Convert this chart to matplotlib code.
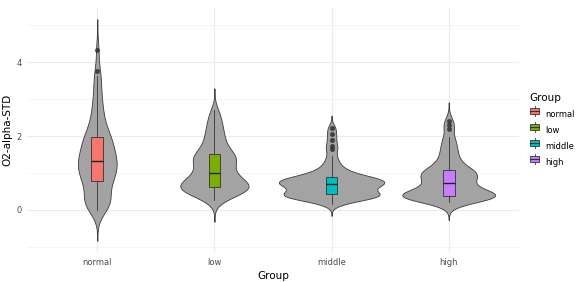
import numpy as np
import matplotlib.pyplot as plt
from matplotlib.lines import Line2D
from matplotlib.patches import Rectangle
from matplotlib.legend_handler import HandlerBase

# Groups and hand-read sample values (O2-alpha-STD)
groups = ["normal", "low", "middle", "high"]
colors = ["#F8766D", "#7CAE00", "#00BFC4", "#C77CFF"]

normal = [0.00, 0.05, 0.09, 0.13, 0.16, 0.19, 0.22, 0.26, 0.30, 0.36, 0.45, 0.54, 0.62, 0.69, 0.74,
          0.78,
          0.82, 0.86, 0.90, 0.94, 0.98, 1.02, 1.06, 1.10, 1.14, 1.18, 1.22, 1.25, 1.28, 1.31,
          1.33,
          1.37, 1.41, 1.45, 1.50, 1.54, 1.58, 1.63, 1.68, 1.73, 1.78, 1.83, 1.88, 1.92, 1.95,
          1.97,
          2.04, 2.12, 2.20, 2.29, 2.38, 2.48, 2.60, 2.73, 2.87, 3.02, 3.20, 3.40, 3.62, 3.76, 4.33]
low = [0.27, 0.33, 0.38, 0.42, 0.45, 0.48, 0.50, 0.52, 0.54, 0.55, 0.56, 0.57, 0.58, 0.60, 0.61,
       0.62,
       0.64, 0.66, 0.68, 0.70, 0.72, 0.74, 0.76, 0.79, 0.82, 0.85, 0.88, 0.91, 0.94, 0.97,
       1.00,
       1.05, 1.10, 1.15, 1.19, 1.23, 1.27, 1.30, 1.33, 1.36, 1.39, 1.42, 1.45, 1.47, 1.49,
       1.51,
       1.56, 1.62, 1.68, 1.74, 1.80, 1.87, 1.94, 2.01, 2.09, 2.17, 2.26, 2.35, 2.45, 2.57, 2.70]
middle = [0.16, 0.21, 0.25, 0.28, 0.30, 0.32, 0.34, 0.35, 0.36, 0.37, 0.38, 0.39, 0.40, 0.41, 0.42,
          0.43,
          0.45, 0.47, 0.49, 0.51, 0.53, 0.55, 0.57, 0.59, 0.61, 0.63, 0.65, 0.67, 0.68, 0.69,
          0.70,
          0.71, 0.72, 0.74, 0.75, 0.76, 0.77, 0.79, 0.80, 0.81, 0.83, 0.84, 0.85, 0.87, 0.88,
          0.89,
          0.92, 0.95, 0.98, 1.01, 1.05, 1.10, 1.16, 1.24, 1.34, 1.47, 1.64, 1.74, 1.90, 2.06, 2.23]
high = [0.22, 0.26, 0.29, 0.31, 0.32, 0.33, 0.34, 0.345, 0.35, 0.355, 0.36, 0.365, 0.37, 0.375, 0.378,
        0.38,
        0.39, 0.40, 0.41, 0.42, 0.43, 0.44, 0.46, 0.48, 0.51, 0.55, 0.59, 0.63, 0.67, 0.70,
        0.73,
        0.76, 0.79, 0.82, 0.85, 0.88, 0.90, 0.93, 0.95, 0.97, 0.99, 1.01, 1.03, 1.05, 1.07,
        1.08,
        1.13, 1.18, 1.24, 1.30, 1.37, 1.44, 1.52, 1.60, 1.69, 1.78, 1.88, 1.98, 2.20, 2.31, 2.42]
data = [normal, low, middle, high]


def nrd0(x):
    x = np.asarray(x)
    iqr = np.subtract(*np.percentile(x, [75, 25]))
    lo = min(np.std(x, ddof=1), iqr / 1.34)
    return 0.9 * lo * len(x) ** -0.2


adjust = 0.8
dens = []
for vals in data:
    v = np.asarray(vals)
    bw = nrd0(v) * adjust
    ys = np.linspace(v.min() - 3 * bw, v.max() + 3 * bw, 512)
    d = np.exp(-0.5 * ((ys[:, None] - v[None, :]) / bw) ** 2).sum(axis=1)
    d = d / (len(v) * bw * np.sqrt(2 * np.pi))
    dens.append((ys, d))
dmax = max(d.max() for _, d in dens)

fig = plt.figure(figsize=(5.83, 2.82), dpi=100)
ax = fig.add_axes([27 / 583, 30 / 282, 492 / 583, 244 / 282])

for i, ((ys, d), vals, col) in enumerate(zip(dens, data, colors)):
    x0 = i + 1
    w = d / dmax * 0.45
    ax.fill_betweenx(ys, x0 - w, x0 + w, facecolor="#A3A3A3",
                     edgecolor="#3A3A3A", linewidth=0.6, zorder=2)
    ax.boxplot([vals], positions=[x0], widths=0.1, patch_artist=True,
               manage_ticks=False, zorder=3,
               boxprops=dict(facecolor=col, edgecolor="#333333", linewidth=0.6),
               medianprops=dict(color="#222222", linewidth=1.0),
               whiskerprops=dict(color="#333333", linewidth=0.6),
               capprops=dict(linewidth=0),
               flierprops=dict(marker="o", markersize=2.6, markerfacecolor="#333333",
                               markeredgecolor="#333333", alpha=0.8))

ymin = min(ys.min() for ys, _ in dens)
ymax = max(ys.max() for ys, _ in dens)
pad = (ymax - ymin) * 0.05
ax.set_ylim(ymin - pad, ymax + pad)
ax.set_xlim(0.4, 4.6)

ax.set_xticks(range(1, 5))
ax.set_xticklabels(groups)
ax.set_yticks([0, 2, 4])
ax.set_yticks([-1, 1, 3, 5], minor=True)
ax.grid(True, which="major", color="#EBEBEB", linewidth=0.8, zorder=0)
ax.grid(True, which="minor", axis="y", color="#F2F2F2", linewidth=0.5, zorder=0)
ax.set_axisbelow(True)
for s in ax.spines.values():
    s.set_visible(False)
ax.tick_params(axis="both", which="both", length=0, labelsize=6, labelcolor="#4D4D4D")
ax.tick_params(axis="x", pad=4)
ax.set_xlabel("Group", fontsize=7.5, labelpad=3)
ax.set_ylabel("O2-alpha-STD", fontsize=7.5, labelpad=3)


class BoxHandler(HandlerBase):
    def create_artists(self, legend, orig, xd, yd, width, height, fontsize, trans):
        col = orig.get_color()
        cx = xd + width / 2
        r = Rectangle((xd + width * 0.1, yd + height * 0.15), width * 0.8, height * 0.7,
                      facecolor=col, edgecolor="#333333", linewidth=0.6, transform=trans)
        m = Line2D([xd + width * 0.1, xd + width * 0.9], [yd + height / 2] * 2,
                   color="#333333", linewidth=0.8, transform=trans)
        wl = Line2D([cx, cx], [yd - height * 0.05, yd + height * 0.15],
                    color="#333333", linewidth=0.6, transform=trans)
        wu = Line2D([cx, cx], [yd + height * 0.85, yd + height * 1.05],
                    color="#333333", linewidth=0.6, transform=trans)
        return [wl, wu, r, m]


handles = [Line2D([], [], color=c) for c in colors]
leg = fig.legend(handles, groups, handler_map={Line2D: BoxHandler()},
                 loc="upper left", bbox_to_anchor=(526 / 583, 1 - 90 / 282),
                 frameon=False, fontsize=6, title="Group", title_fontsize=7.5,
                 handlelength=1.3, handleheight=1.3, handletextpad=0.6,
                 labelspacing=0.8, borderaxespad=0)
leg._legend_box.align = "left"

fig.savefig("out.png", dpi=100)
